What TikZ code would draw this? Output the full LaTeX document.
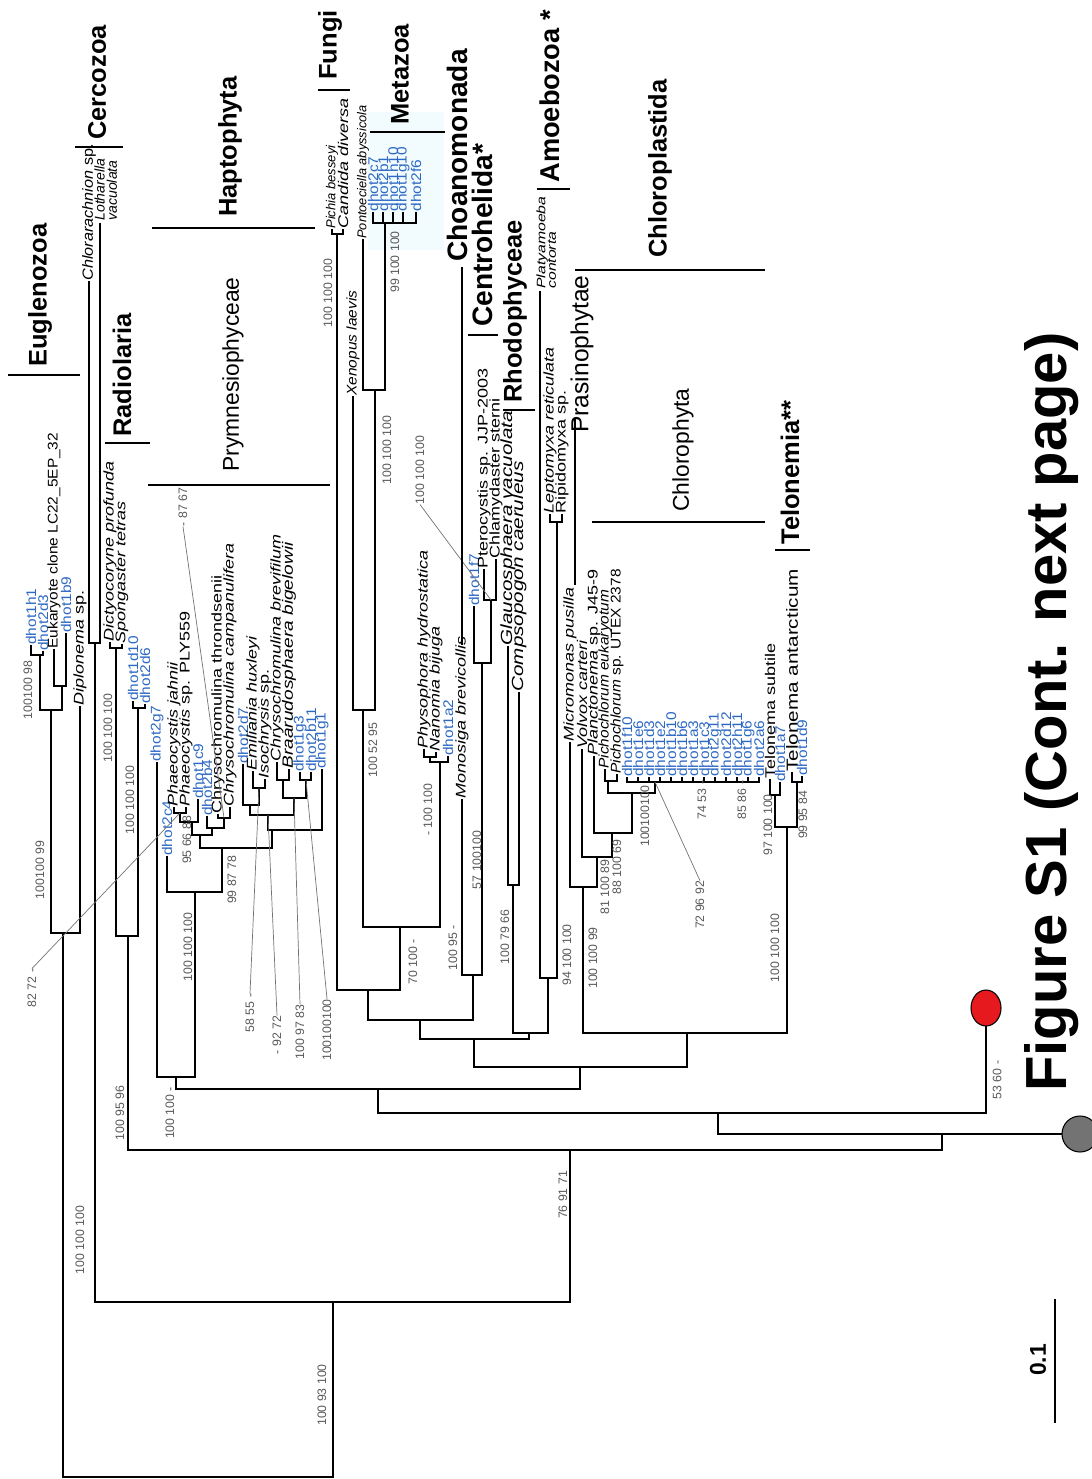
\documentclass[tikz,border=0pt]{standalone}
\usepackage{fontspec}
\setmainfont{Liberation Sans}
\newfontfamily\leaffont[FakeStretch=1.28]{Liberation Sans}
\newfontfamily\dhotfont[FakeStretch=1.1]{Liberation Sans}
\usetikzlibrary{positioning}
\definecolor{dhotblue}{RGB}{45,105,195}
\definecolor{nodered}{RGB}{230,25,30}
\tikzset{
  br/.style={line width=1.6pt, line cap=rect},
  leaf/.style={rotate=90, anchor=west, inner sep=0.6pt, font=\leaffont\fontsize{8}{9}\selectfont},
  dleaf/.style={leaf, text=dhotblue, font=\dhotfont\fontsize{8}{9}\selectfont},
  bigleaf/.style={leaf, font=\leaffont\fontsize{9.2}{10}\selectfont},
  slimleaf/.style={leaf, font=\dhotfont\fontsize{8}{9}\selectfont},
  supp/.style={rotate=90, inner sep=0pt, text=black!65, font=\fontsize{7}{8}\selectfont},
  leader/.style={black!55, line width=0.4pt},
  clade/.style={rotate=90, anchor=west, inner sep=0pt, font=\fontsize{14.5}{16}\selectfont\bfseries},
  subclade/.style={rotate=90, anchor=west, inner sep=0pt, font=\fontsize{13}{15}\selectfont},
  cladebar/.style={line width=1.6pt}
}
\begin{document}
\begin{tikzpicture}[x=0.02cm, y=-0.02cm]
  \useasboundingbox (0,0) rectangle (1091,1479);
  \fill[cyan!5] (368,112) rectangle (444,250);

  % leaves, left to right
  \node[dleaf] (d1h1) at (31,646) {dhot1h1};
  \node[dleaf] (d2d3) at (43,652) {dhot2d3};
  \node[slimleaf] (euk) at (54,650) {Eukaryote clone LC22\_5EP\_32};
  \node[dleaf] (d1b9) at (66,634) {dhot1b9};
  \node[leaf] (diplo) at (80,707) {\textit{Diplonema} sp.};
  \node[slimleaf, font=\dhotfont\fontsize{8.4}{9}\selectfont] (chlora) at (89,282) {\textit{Chlorarachnion} sp.};
  \coordinate (lotha) at (100,224);
  \node[leaf, anchor=north west, align=left, font=\fontsize{8}{7}\selectfont]
    (lothal) at (93,222) {\textit{Lotharella}\\\textit{vacuolata}};
  \node[leaf] (dictyo) at (110,643) {\textit{Dictyocoryne profunda}};
  \node[leaf] (spong) at (122,645) {\textit{Spongaster tetras}};
  \node[dleaf] (d1d10) at (133,702) {dhot1d10};
  \node[dleaf] (d2d6) at (145,705) {dhot2d6};
  \node[dleaf] (d2g7) at (157,763) {dhot2g7};
  \node[dleaf] (d2c4) at (167,857) {dhot2c4};
  \node[leaf] (phjah) at (174,808) {\textit{Phaeocystis jahnii}};
  \node[leaf] (phply) at (186,808) {\textit{Phaeocystis} sp. PLY559};
  \node[dleaf] (d1c9) at (198,800) {dhot1c9};
  \node[dleaf] (d2b4) at (207,817) {dhot2b4};
  \node[leaf] (chthr) at (218,815) {Chrysochromulina throndsenii};
  \node[leaf] (chcam) at (230,808) {\textit{Chrysochromulina campanulifera}};
  \node[dleaf] (d2d7) at (243,765) {dhot2d7};
  \node[leaf] (emil) at (253,772) {\textit{Emiliania huxleyi}};
  \node[leaf] (isoch) at (265,780) {\textit{Isochrysis} sp.};
  \node[leaf] (chbre) at (277,763) {\textit{Chrysochromulina brevifilum}};
  \node[leaf, font=\leaffont\fontsize{8.5}{9}\selectfont] (braar) at (289,770) {\textit{Braarudosphaera bigelowii}};
  \node[dleaf] (d1g3) at (300,773) {dhot1g3};
  \node[dleaf] (d2b11) at (311,773) {dhot2b11};
  \node[dleaf] (d1g1) at (322,770) {dhot1g1};
  \node[leaf, font=\fontsize{7.4}{8}\selectfont] (pichia) at (332,230) {\textit{Pichia besseyi}};
  \node[leaf] (candida) at (343,230) {\textit{Candida diversa}};
  \node[slimleaf] (xeno) at (353,397) {\textit{Xenopus laevis}};
  \node[leaf, font=\fontsize{7.3}{8}\selectfont] (ponto) at (363,240) {\textit{Pontoeciella abyssicola}};
  \node[dleaf] (d2c7) at (373,213) {dhot2c7};
  \node[dleaf] (d2b1) at (383,213) {dhot2b1};
  \node[dleaf] (d1h10) at (393,213) {dhot1h10};
  \node[dleaf] (d1g10) at (403,213) {dhot1g10};
  \node[dleaf] (d2f6) at (416,213) {dhot2f6};
  \node[leaf] (physo) at (424,750) {\textit{Physophora hydrostatica}};
  \node[leaf] (nanom) at (436,753) {\textit{Nanomia bijuga}};
  \node[dleaf] (d1a2) at (448,757) {dhot1a2};
  \node[leaf] (monos) at (462,800) {\textit{Monosiga brevicollis}};
  \node[dleaf] (d1f7) at (474,607) {dhot1f7};
  \node[leaf] (ptero) at (484,570) {Pterocystis sp. JJP-2003};
  \node[leaf] (chlam) at (496,560) {Chlamydaster sterni};
  \node[bigleaf] (glauc) at (508,647) {\textit{Glaucosphaera vacuolata}};
  \node[bigleaf] (comps) at (519,693) {\textit{Compsopogon caeruleus}};
  \coordinate (platy) at (540,292);
  \node[leaf, anchor=north west, align=left, font=\leaffont\fontsize{7}{6}\selectfont]
    (platyl) at (535,290) {\textit{Platyamoeba}\\\textit{contorta}};
  \node[leaf] (lepto) at (550,515) {\textit{Leptomyxa reticulata}};
  \node[leaf] (ripid) at (562,515) {Ripidomyxa sp.};
  \node[leaf] (micro) at (570,743) {\textit{Micromonas pusilla}};
  \node[leaf] (volvox) at (582,750) {\textit{Volvox carteri}};
  \node[leaf] (planc) at (594,757) {\textit{Planctonema} sp. J45-9};
  \node[slimleaf] (picheu) at (605,770) {\textit{Pichochlorum eukaryotum}};
  \node[slimleaf] (pichut) at (617,775) {\textit{Pichochlorum} sp. UTEX 2378};
  \foreach \t [count=\i from 0] in {dhot1f10,dhot1e6,dhot1d3,dhot1e2,dhot1b10,dhot1b6,
      dhot1a3,dhot1c3,dhot2g11,dhot2d12,dhot2h11,dhot1g6,dhot2a6}
    \node[dleaf] (cl\i) at ({627+11*\i},778) {\t};
  \node[leaf] (tsub) at (770,780) {Telonema subtile};
  \node[dleaf] (d1a7) at (780,783) {dhot1a7};
  \node[bigleaf] (tant) at (792,773) {Telonema antarcticum};
  \node[dleaf] (d1d9) at (802,777) {dhot1d9};

  % inner nodes
  \coordinate (R) at (333,1477);
  \coordinate (N1) at (333,1302);
  \coordinate (Eug) at (63,933);
  \coordinate (Eg1) at (51,710);
  \coordinate (Eg2) at (40,655);
  \coordinate (Eg3) at (62,686);
  \coordinate (Cerc) at (95,643);
  \coordinate (N2) at (570,1150);
  \coordinate (Rad) at (128,936);
  \coordinate (Rd1) at (116,648);
  \coordinate (Rd2) at (138,708);
  \coordinate (N3) at (942,1134);
  \coordinate (grey) at (1080,1134);
  \coordinate (N4) at (718,1113);
  \coordinate (red) at (986,1024);
  \coordinate (N5) at (378,1089);
  \coordinate (N6) at (176,1077);
  \coordinate (Hapt) at (195,892);
  \coordinate (Hb) at (222,848);
  \coordinate (Hx) at (200,835);
  \coordinate (Ha2) at (192,822);
  \coordinate (Ha1) at (180,813);
  \coordinate (Hd2) at (212,828);
  \coordinate (Hd1) at (224,818);
  \coordinate (Hc) at (272,830);
  \coordinate (Hf4) at (268,815);
  \coordinate (He2) at (250,805);
  \coordinate (He1) at (259,788);
  \coordinate (Hf3) at (294,798);
  \coordinate (Hf1) at (283,780);
  \coordinate (Hf2) at (306,780);
  \coordinate (N7) at (580,1067);
  \coordinate (N8) at (474,1039);
  \coordinate (N10) at (420,1020);
  \coordinate (M2) at (368,990);
  \coordinate (F1) at (337,234);
  \coordinate (M1) at (400,927);
  \coordinate (Mz2) at (363,710);
  \coordinate (Mz1) at (375,390);
  \coordinate (Mb) at (385,223);
  \coordinate (Cn2) at (440,762);
  \coordinate (Cn1) at (430,757);
  \coordinate (N13) at (473,975);
  \coordinate (C1) at (482,663);
  \coordinate (C2) at (491,600);
  \coordinate (N11) at (529,1033);
  \coordinate (R1) at (513,885);
  \coordinate (A1) at (548,978);
  \coordinate (A2) at (557,522);
  \coordinate (N9) at (687,1033);
  \coordinate (Cp5) at (583,887);
  \coordinate (Cp4) at (597,857);
  \coordinate (Cp3) at (612,833);
  \coordinate (Cp2) at (632,793);
  \coordinate (Cp1) at (608,781);
  \coordinate (Dh) at (655,782);
  \coordinate (T1) at (787,827);
  \coordinate (T2) at (775,795);
  \coordinate (T3) at (797,782);

  % branches
  \draw[br] (Eug) |- (R) (N1) |- (R);
  \draw[br] (Eg1) |- (Eug) (diplo.west) |- (Eug);
  \draw[br] (Eg2) |- (Eg1) (Eg3) |- (Eg1);
  \draw[br] (d1h1.west) |- (Eg2) (d2d3.west) |- (Eg2);
  \draw[br] (euk.west) |- (Eg3) (d1b9.west) |- (Eg3);
  \draw[br] (Cerc) |- (N1) (N2) |- (N1);
  \draw[br] (chlora.west) |- (Cerc) (lotha) |- (Cerc);
  \draw[br] (Rad) |- (N2) (N3) |- (N2);
  \draw[br] (Rd1) |- (Rad) (Rd2) |- (Rad);
  \draw[br] (dictyo.west) |- (Rd1) (spong.west) |- (Rd1);
  \draw[br] (d1d10.west) |- (Rd2) (d2d6.west) |- (Rd2);
  \draw[br] (N4) |- (N3) (grey) |- (N3);
  \draw[br] (N5) |- (N4) (red) |- (N4);
  \draw[br] (N6) |- (N5) (N7) |- (N5);
  \draw[br] (d2g7.west) |- (N6) (Hapt) |- (N6);
  \draw[br] (d2c4.west) |- (Hapt) (Hb) |- (Hapt);
  \draw[br] (Hx) |- (Hb) (Hc) |- (Hb);
  \draw[br] (Ha2) |- (Hx) (Hd2) |- (Hx);
  \draw[br] (Ha1) |- (Ha2) (d1c9.west) |- (Ha2);
  \draw[br] (phjah.west) |- (Ha1) (phply.west) |- (Ha1);
  \draw[br] (d2b4.west) |- (Hd2) (Hd1) |- (Hd2);
  \draw[br] (chthr.west) |- (Hd1) (chcam.west) |- (Hd1);
  \draw[br] (Hf4) |- (Hc) (d1g1.west) |- (Hc);
  \draw[br] (He2) |- (Hf4) (Hf3) |- (Hf4);
  \draw[br] (d2d7.west) |- (He2) (He1) |- (He2);
  \draw[br] (emil.west) |- (He1) (isoch.west) |- (He1);
  \draw[br] (Hf1) |- (Hf3) (Hf2) |- (Hf3);
  \draw[br] (chbre.west) |- (Hf1) (braar.west) |- (Hf1);
  \draw[br] (d1g3.west) |- (Hf2) (d2b11.west) |- (Hf2);
  \draw[br] (N8) |- (N7) (N9) |- (N7);
  \draw[br] (N10) |- (N8) (N11) |- (N8);
  \draw[br] (M2) |- (N10) (N13) |- (N10);
  \draw[br] (F1) |- (M2) (M1) |- (M2);
  \draw[br] (pichia.west) |- (F1) (candida.west) |- (F1);
  \draw[br] (Mz2) |- (M1) (Cn2) |- (M1);
  \draw[br] (xeno.west) |- (Mz2) (Mz1) |- (Mz2);
  \draw[br] (ponto.west) |- (Mz1) (Mb) |- (Mz1);
  \foreach \c in {d2c7,d2b1,d1h10,d1g10,d2f6}
    \draw[br] (\c.west) |- (Mb);
  \draw[br] (Cn1) |- (Cn2) (d1a2.west) |- (Cn2);
  \draw[br] (physo.west) |- (Cn1) (nanom.west) |- (Cn1);
  \draw[br] (monos.west) |- (N13) (C1) |- (N13);
  \draw[br] (d1f7.west) |- (C1) (C2) |- (C1);
  \draw[br] (ptero.west) |- (C2) (chlam.west) |- (C2);
  \draw[br] (R1) |- (N11) (A1) |- (N11);
  \draw[br] (glauc.west) |- (R1) (comps.west) |- (R1);
  \draw[br] (platy) |- (A1) (A2) |- (A1);
  \draw[br] (lepto.west) |- (A2) (ripid.west) |- (A2);
  \draw[br] (Cp5) |- (N9) (T1) |- (N9);
  \draw[br] (micro.west) |- (Cp5) (Cp4) |- (Cp5);
  \draw[br] (volvox.west) |- (Cp4) (Cp3) |- (Cp4);
  \draw[br] (planc.west) |- (Cp3) (Cp2) |- (Cp3);
  \draw[br] (Cp1) |- (Cp2) (Dh) |- (Cp2);
  \draw[br] (picheu.west) |- (Cp1) (pichut.west) |- (Cp1);
  \foreach \i in {0,...,12}
    \draw[br] (cl\i.west) |- (Dh);
  \draw[br] (T2) |- (T1) (T3) |- (T1);
  \draw[br] (tsub.west) |- (T2) (d1a7.west) |- (T2);
  \draw[br] (tant.west) |- (T3) (d1d9.west) |- (T3);

  % the two marked nodes
  \draw[fill=nodered, line width=0.6pt] (986,1008) circle[x radius=0.30cm, y radius=0.36cm];
  \draw[fill=black!55, line width=0.6pt] (grey) circle[radius=0.36cm];

  % support values
  \node[supp] (s1) at (28,690) {100100 98};
  \node[supp] (s2) at (40,870) {100100 99};
  \node[supp] (s3) at (32,988) {82 72 -};
  \node[supp] (s4) at (80,1240) {100 100 100};
  \node[supp] (s5) at (322,1395) {100 93 100};
  \node[supp] (s6) at (563,1195) {76 91 71};
  \node[supp] (s7) at (120,1113) {100 95 96};
  \node[supp] (s8) at (170,1113) {100 100 -};
  \node[supp] (s9) at (188,947) {100 100 100};
  \node[supp] (s10) at (108,728) {100 100 100};
  \node[supp] (s11) at (130,800) {100 100 100};
  \node[supp] (s12) at (187,840) {95 66 88};
  \node[supp] (s13) at (232,880) {99 87 78};
  \node[supp] (s14) at (183,507) {- 87 67};
  \node[supp] (s15) at (250,1013) {58 55 -};
  \node[supp] (s16) at (277,1035) {- 92 72};
  \node[supp] (s17) at (300,1032) {100 97 83};
  \node[supp] (s18) at (327,1030) {100100100};
  \node[supp] (s19) at (328,293) {100 100 100};
  \node[supp] (s20) at (373,750) {100 52 95};
  \node[supp] (s21) at (387,450) {100 100 100};
  \node[supp] (s22) at (395,262) {99 100 100};
  \node[supp] (s23) at (428,810) {- 100 100};
  \node[supp] (s24) at (413,962) {70 100 -};
  \node[supp] (s25) at (453,948) {100 95 -};
  \node[supp] (s26) at (477,860) {57 100100};
  \node[supp] (s27) at (420,470) {100 100 100};
  \node[supp] (s28) at (505,937) {100 79 66};
  \node[supp] (s29) at (567,955) {94 100 100};
  \node[supp] (s30) at (593,958) {100 100 99};
  \node[supp] (s31) at (605,887) {81 100 89};
  \node[supp] (s32) at (617,867) {88 100 69};
  \node[supp] (s33) at (645,816) {100100100};
  \node[supp] (s34) at (702,800) {74 53 -};
  \node[supp] (s35) at (700,905) {72 96 92};
  \node[supp] (s36) at (742,800) {85 86 -};
  \node[supp] (s37) at (768,825) {97 100 100};
  \node[supp] (s38) at (803,815) {99 95 84};
  \node[supp] (s39) at (775,948) {100 100 100};
  \node[supp] (s40) at (997,1080) {53 60 -};

  \draw[leader] (s3.east) -- (Ha1);
  \draw[leader] (s14.west) -- (Hd1);
  \draw[leader] (s15.east) -- (He1);
  \draw[leader] (s16.east) -- (Hf4);
  \draw[leader] (s17.east) -- (Hf3);
  \draw[leader] (s18.east) -- (Hf2);
  \draw[leader] (s27.west) -- (C2);
  \draw[leader] (s35.east) -- (Dh);

  % group names
  \node[clade] (euglen) at (40,367) {Euglenozoa};
  \node[clade] (cercoz) at (97,140) {Cercozoa};
  \node[clade] (radiol) at (122,437) {Radiolaria};
  \node[clade] (hapto) at (230,217) {Haptophyta};
  \node[subclade] (prymn) at (233,472) {Prymnesiophyceae};
  \node[clade] (fungi) at (330,80) {Fungi};
  \node[clade] (metaz) at (400,125) {Metazoa};
  \node[clade, font=\fontsize{16}{18}\selectfont\bfseries] (choano) at (457,262) {Choanomonada};
  \node[clade, font=\fontsize{16}{18}\selectfont\bfseries] (centro) at (482,327) {Centrohelida*};
  \node[clade] (rhodo) at (515,403) {Rhodophyceae};
  \node[clade, font=\fontsize{15.5}{18}\selectfont\bfseries] (amoeb) at (550,183) {Amoebozoa *};
  \node[clade] (chlpl) at (660,258) {Chloroplastida};
  \node[subclade, font=\fontsize{14}{16}\selectfont] (prasi) at (582,433) {Prasinophytae};
  \node[subclade] (chlph) at (683,512) {Chlorophyta};
  \node[clade] (telon) at (790,545) {Telonemia**};

  \draw[cladebar] (8,375) -- (80,375);
  \draw[cladebar] (75,147) -- (123,147);
  \draw[cladebar] (105,443) -- (150,443);
  \draw[cladebar] (152,228) -- (315,228);
  \draw[cladebar] (148,485) -- (330,485);
  \draw[cladebar] (318,90) -- (350,90);
  \draw[cladebar] (370,132) -- (445,132);
  \draw[cladebar] (462,267) -- (462,645);
  \draw[cladebar] (468,335) -- (498,335);
  \draw[cladebar] (503,410) -- (535,410);
  \draw[cladebar] (537,189) -- (570,189);
  \draw[cladebar] (575,270) -- (765,270);
  \draw[cladebar] (575,418) -- (575,585);
  \draw[cladebar] (592,522) -- (765,522);
  \draw[cladebar] (775,550) -- (810,550);

  % scale and caption
  \draw[br] (1055,1300) -- (1055,1422);
  \node[rotate=90, font=\fontsize{13}{15}\selectfont\bfseries] (scale) at (1038,1360) {0.1};
  \node[rotate=90, font=\fontsize{33}{38}\selectfont\bfseries] (caption) at (1052,712)
    {Figure S1 (Cont. next page)};
\end{tikzpicture}
\end{document}
